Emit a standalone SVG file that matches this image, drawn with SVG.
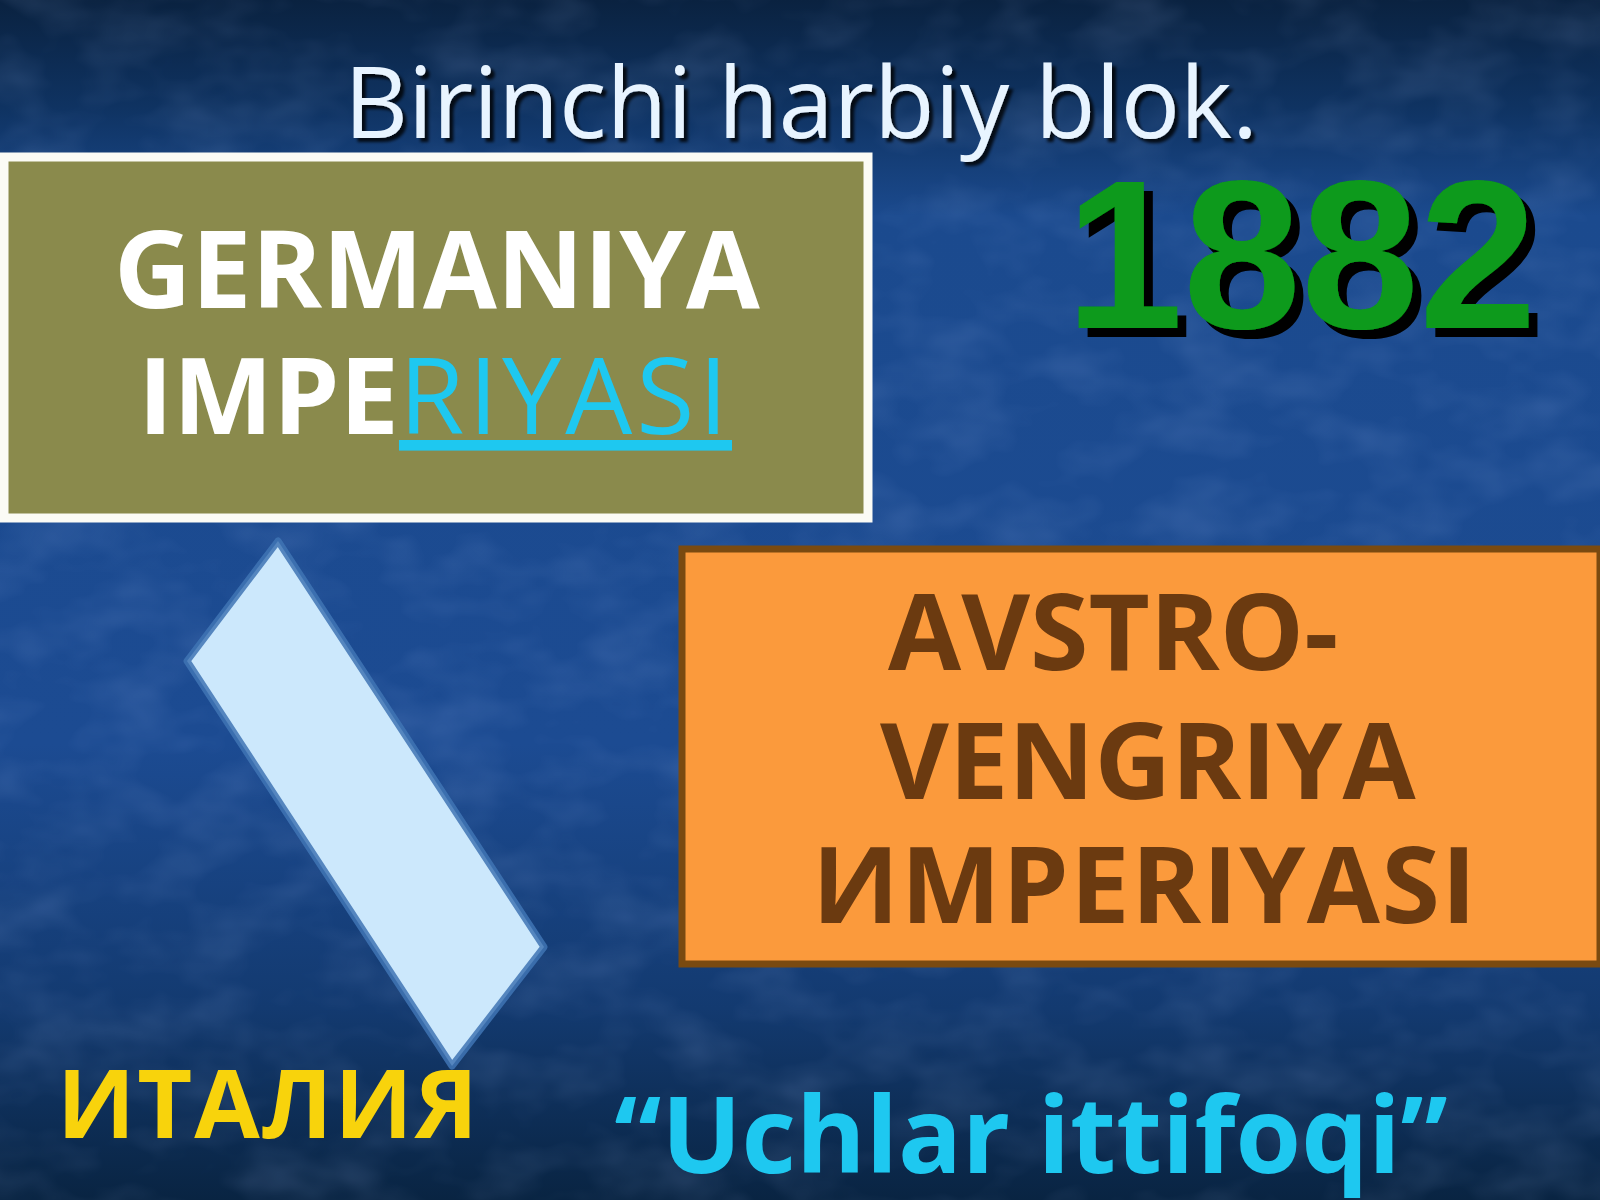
<svg xmlns="http://www.w3.org/2000/svg" width="1600" height="1200" viewBox="0 0 1600 1200">
<defs>
<linearGradient id="bg" x1="0" y1="0" x2="0" y2="1">
<stop offset="0" stop-color="#0a2240"/>
<stop offset="0.09" stop-color="#0f3362"/>
<stop offset="0.18" stop-color="#1b4a8e"/>
<stop offset="0.62" stop-color="#1c4b92"/>
<stop offset="0.84" stop-color="#133a70"/>
<stop offset="1" stop-color="#092442"/>
</linearGradient>
<filter id="tex" x="0" y="0" width="1" height="1">
<feTurbulence type="fractalNoise" baseFrequency="0.012 0.02" numOctaves="3" seed="7"/>
<feColorMatrix values="0 0 0 0 0.45  0 0 0 0 0.6  0 0 0 0 1  0 0 0 0.5 -0.2"/>
</filter>
<filter id="sh" x="-10%" y="-10%" width="130%" height="130%">
<feDropShadow dx="4" dy="4" stdDeviation="1.5" flood-color="#000" flood-opacity="0.8"/>
</filter>
<filter id="sh2" x="-10%" y="-10%" width="130%" height="130%">
<feDropShadow dx="9" dy="9" stdDeviation="0.5" flood-color="#000" flood-opacity="1"/>
</filter>
<style>
.t{font-family:"Open Sans","Noto Sans","DejaVu Sans",sans-serif;}
.b{font-weight:bold;}
</style>
</defs>
<rect width="1600" height="1200" fill="url(#bg)"/>
<rect width="1600" height="1200" filter="url(#tex)" opacity="0.5"/>

<text class="t" x="801" y="138" font-size="99" fill="#e8f4ff" text-anchor="middle" filter="url(#sh)">Birinchi harbiy blok.</text>

<g id="germaniya">
<rect x="4" y="157" width="864" height="361" fill="#8a8a4c" stroke="#fbfbf5" stroke-width="9"/>
<text class="t b" x="437" y="308" font-size="107" fill="#ffffff" text-anchor="middle">GERMANIYA</text>
<text class="t" x="138" y="434" font-size="106"><tspan class="b" fill="#ffffff">IMPE</tspan><tspan fill="#1ec8f0" text-decoration="underline" letter-spacing="4">RIYASI</tspan></text>
</g>

<g id="year">
<text x="1301" y="328" font-family="Liberation Sans, Arial, sans-serif" font-weight="bold" font-size="212" fill="#0a9a1a" text-anchor="middle" filter="url(#sh2)">1882</text>
</g>

<g id="avstro">
<rect x="682" y="549" width="918" height="415" fill="#fb9a3c" stroke="#7a4a10" stroke-width="7"/>
<text class="t b" font-size="106" fill="#6b3a10">
<tspan x="888" y="670">AVSTRO-</tspan>
<tspan x="880" y="799">VENGRIYA</tspan>
<tspan x="812" y="923" letter-spacing="1.5">ИMPERIYASI</tspan>
</text>
</g>

<g id="connectors">
<polygon points="278,541 187,661 452,1066 544,947" fill="#cce8fc" stroke="#3f74b4" stroke-width="7" stroke-linejoin="round" stroke-opacity="0.85"/>
</g>

<g id="italiya">
<text class="t b" x="57" y="1138" font-size="95" fill="#f8d30c" letter-spacing="2">ИТАЛИЯ</text>
</g>

<g id="uchlar">
<text class="t b" x="1031" y="1173" font-size="106" fill="#1ec8f0" text-anchor="middle">“Uchlar ittifoqi”</text>
</g>
</svg>
